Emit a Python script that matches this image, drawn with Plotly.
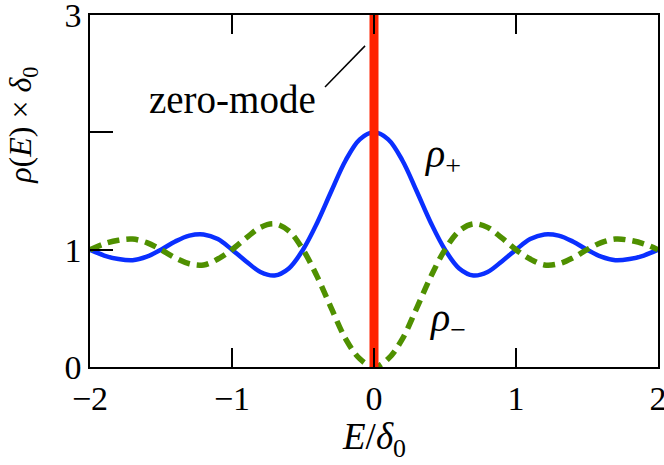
import plotly.graph_objects as go

E = [-2.0, -1.9, -1.8, -1.7, -1.6, -1.5, -1.4, -1.3, -1.2, -1.1, -1.0,
     -0.9, -0.8, -0.7, -0.6, -0.5, -0.4, -0.3, -0.2, -0.1, 0.0,
     0.1, 0.2, 0.3, 0.4, 0.5, 0.6, 0.7, 0.8, 0.9, 1.0,
     1.1, 1.2, 1.3, 1.4, 1.5, 1.6, 1.7, 1.8, 1.9, 2.0]
rho_plus = [1.00, 0.95, 0.92, 0.91, 0.94, 1.00, 1.07, 1.12, 1.13, 1.09, 1.00,
            0.90, 0.81, 0.78, 0.84, 1.00, 1.23, 1.50, 1.76, 1.94, 2.00,
            1.94, 1.76, 1.50, 1.23, 1.00, 0.84, 0.78, 0.81, 0.90, 1.00,
            1.09, 1.13, 1.12, 1.07, 1.00, 0.94, 0.91, 0.92, 0.95, 1.00]
rho_minus = [1.00, 1.05, 1.08, 1.09, 1.06, 1.00, 0.93, 0.88, 0.87, 0.92, 1.00,
             1.10, 1.19, 1.22, 1.16, 1.00, 0.77, 0.50, 0.24, 0.07, 0.00,
             0.07, 0.24, 0.50, 0.77, 1.00, 1.16, 1.22, 1.19, 1.10, 1.00,
             0.92, 0.87, 0.88, 0.93, 1.00, 1.06, 1.09, 1.08, 1.05, 1.00]
zero_mode_E = [0.0, 0.0]
zero_mode_rho = [0.0, 3.0]

x_tickvals = [-2, -1, 0, 1, 2]
x_ticktext = ["\u22122", "\u22121", "0", "1", "2"]
y_tickvals = [0, 1, 2, 3]
y_ticktext = ["0", "1", "", "3"]

FONT = "Liberation Serif"
FS = 34

fig = go.Figure()
fig.add_trace(go.Scatter(x=E, y=rho_plus, mode="lines", line=dict(color="#0a2fff", width=4.5, shape="spline", smoothing=1.0), showlegend=False))
fig.add_trace(go.Scatter(x=E, y=rho_minus, mode="lines", line=dict(color="#4f9000", width=5.5, dash="12px,7px", shape="spline", smoothing=1.0), showlegend=False))
fig.add_trace(go.Scatter(x=zero_mode_E, y=zero_mode_rho, mode="lines", line=dict(color="#ff2200", width=9), showlegend=False))

fig.add_shape(type="line", x0=-0.345, y0=2.387, x1=-0.063, y1=2.737, xref="x", yref="y", line=dict(color="black", width=1.5))

fig.add_annotation(x=-1.0, y=2.28, xref="x", yref="y", text="zero-mode", showarrow=False, font=dict(family=FONT, size=39, color="black"))
fig.add_annotation(x=0.48, y=1.80, xref="x", yref="y", text="<i>ρ</i><sub>+</sub>", showarrow=False, font=dict(family=FONT, size=40, color="black"))
fig.add_annotation(x=0.52, y=0.40, xref="x", yref="y", text="<i>ρ</i><sub>\u2212</sub>", showarrow=False, font=dict(family=FONT, size=40, color="black"))
fig.add_annotation(x=0.5, y=-0.205, xref="paper", yref="paper", text="<i>E</i>/<i>δ</i><sub>0</sub>", showarrow=False,
                   xanchor="center", yanchor="middle", font=dict(family=FONT, size=37, color="black"))
fig.add_annotation(x=-0.12, y=0.6875, xref="paper", yref="paper", text="<i>ρ</i>(<i>E</i>) × <i>δ</i><sub>0</sub>", showarrow=False,
                   textangle=-90, xanchor="center", yanchor="middle", font=dict(family=FONT, size=32, color="black"))

fig.update_layout(
    width=664, height=465,
    margin=dict(l=90, r=6, t=15, b=98, autoexpand=False),
    plot_bgcolor="white", paper_bgcolor="white",
    font=dict(family=FONT, size=FS, color="black"),
)
fig.update_xaxes(range=[-2, 2], tickvals=x_tickvals, ticktext=x_ticktext, ticks="inside", ticklen=19, tickwidth=1.5, tickcolor="black",
                 showline=True, linecolor="black", linewidth=1.5, mirror="ticks", showgrid=False, zeroline=False, automargin=False,
                 ticklabeloverflow="allow", tickfont=dict(family=FONT, size=FS))
fig.update_yaxes(range=[0, 3], tickvals=y_tickvals, ticktext=y_ticktext, ticks="inside", ticklen=23, tickwidth=1.5, tickcolor="black",
                 showline=True, linecolor="black", linewidth=1.5, mirror=True, showgrid=False, zeroline=False, automargin=False,
                 ticklabeloverflow="allow", tickfont=dict(family=FONT, size=FS))

fig.write_html("out.html", config={"displayModeBar": False},
               post_script="document.body.style.margin='0px';document.body.style.overflow='hidden';")
